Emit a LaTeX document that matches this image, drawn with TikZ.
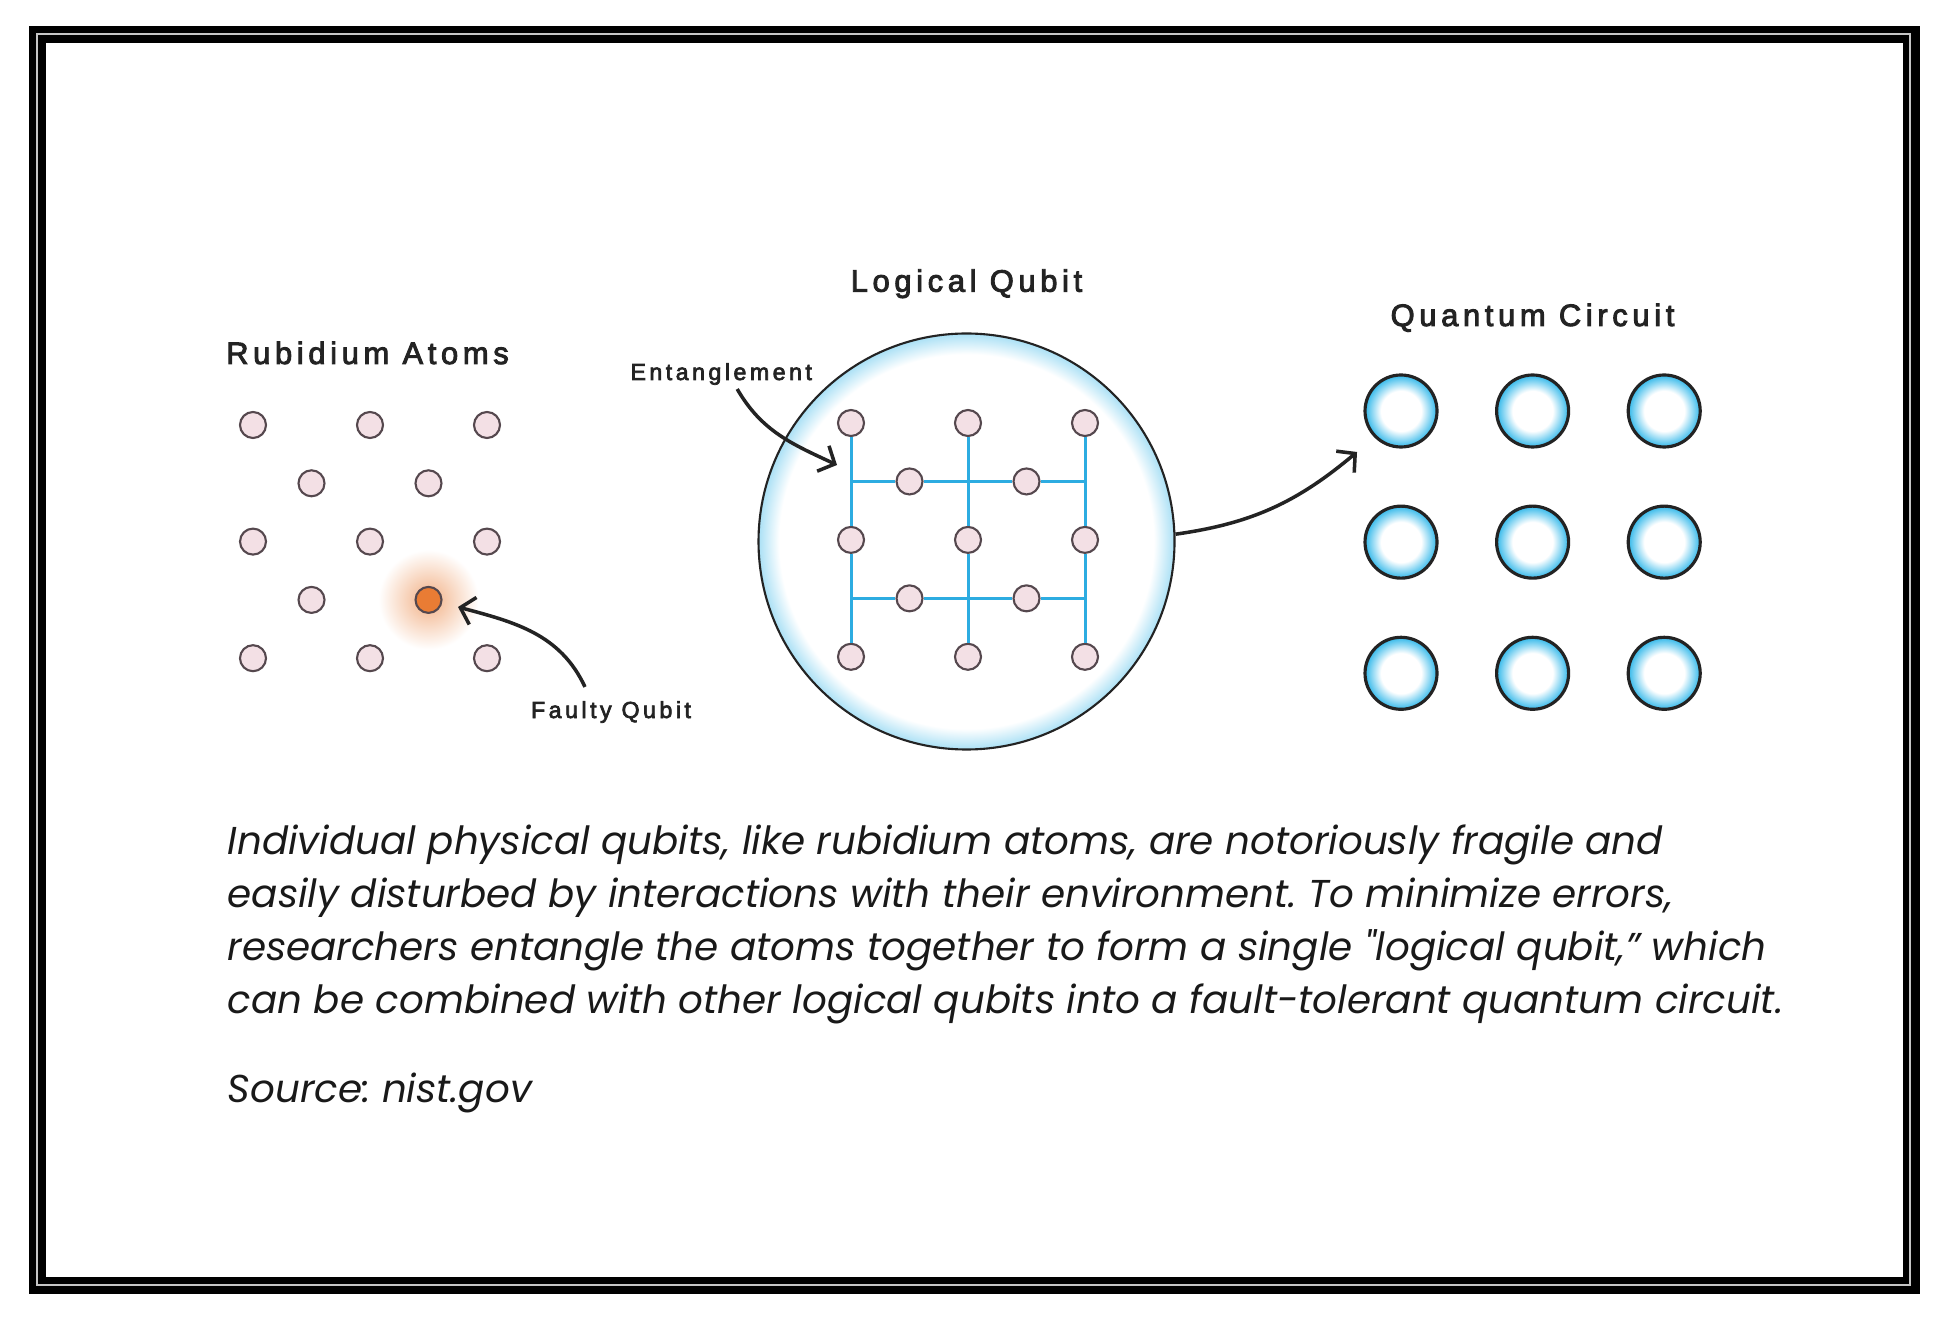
\documentclass[tikz,border=0pt]{standalone}
\usepackage{fontspec}
\usetikzlibrary{positioning, arrows.meta}
\newfontfamily\lblfont[LetterSpace=15, FakeBold=3]{Liberation Sans}
\newfontfamily\capfont{Poppins}
\definecolor{atomfill}{RGB}{243, 224, 229}
\definecolor{atomline}{RGB}{85, 72, 78}
\definecolor{faultfill}{RGB}{233, 124, 52}
\definecolor{entblue}{RGB}{45, 172, 225}
\definecolor{rimblue}{RGB}{170, 224, 245}
\definecolor{qcblue}{RGB}{50, 184, 234}
\definecolor{inkgray}{RGB}{35, 35, 35}
\pgfdeclareradialshading{lqshade}{\pgfpointorigin}{color(0bp)=(white); color(22.5bp)=(white); color(25bp)=(rimblue)}
\pgfdeclareradialshading{qcshade}{\pgfpointorigin}{color(0bp)=(white); color(14bp)=(white); color(25bp)=(qcblue)}

\begin{document}
\begin{tikzpicture}[
        atom/.style={circle, draw=atomline, line width=0.6pt, fill=atomfill,
            minimum size=0.26cm, inner sep=0pt},
        faulty/.style={atom, fill=faultfill},
        qbit/.style={circle, draw=inkgray, line width=0.9pt, shading=qcshade,
            minimum size=0.72cm, inner sep=0pt},
        title/.style={font=\lblfont\fontsize{8.8}{10}\selectfont, text=inkgray, inner sep=1pt},
        tag/.style={font=\lblfont\fontsize{6.6}{8}\selectfont, text=inkgray, inner sep=1pt},
        capnode/.style={font=\capfont\itshape\fontsize{11.05}{15.1}\selectfont\frenchspacing,
            text=black!90, align=left, inner sep=0pt},
        ptr/.style={-{Straight Barb[length=1.3mm, width=2.8mm]}, line width=1pt, draw=inkgray},
        link/.style={draw=entblue, line width=0.85pt}
    ]
    \useasboundingbox (0,0) rectangle (19.38,13.16);
    \fill[white] (0,0) rectangle (19.38,13.16);
    % double frame
    \draw[line width=0.17cm] (0.37,0.305) rectangle (19.11,12.815);
    \draw[gray!45, line width=0.02cm] (0.365,0.315) rectangle (19.095,12.815);

    % rubidium atoms
    \shade[inner color=faultfill!60, outer color=white] (4.285,7.162) circle (0.5);
    \foreach \r in {0,2,4}
        \foreach \c in {0,1,2}
            \node[atom] (ra-\r-\c) at ({2.53+1.17*\c}, {8.91-0.583*\r}) {};
    \foreach \r/\c in {1/0, 1/1, 3/0}
        \node[atom] (ra-\r-\c) at ({3.115+1.17*\c}, {8.91-0.583*\r}) {};
    \node[faulty] (ra-3-1) at (4.285, 7.161) {};
    \node[title, anchor=base] (ratitle) at (3.675, 9.52) {Rubidium Atoms};
    \node[tag, anchor=base] (flbl) at (6.11, 5.98) {Faulty Qubit};
    \coordinate (ftip) at (4.58, 7.09);
    \draw[ptr] ([xshift=-2.6mm, yshift=1mm]flbl.north) to[out=115, in=-15] (ftip);

    % logical qubit
    \node[circle, draw=inkgray, line width=0.6pt, shading=lqshade,
        minimum size=4.16cm, inner sep=0pt] (lq) at (9.665, 7.745) {};
    \foreach \r in {0,2,4}
        \foreach \c in {0,1,2}
            \node[atom] (lq-\r-\c) at ({8.51+1.17*\c}, {8.93-0.5845*\r}) {};
    \foreach \r in {1,3}
        \foreach \c in {0,1}
            \node[atom] (lq-\r-\c) at ({9.095+1.17*\c}, {8.93-0.5845*\r}) {};
    \foreach \c in {0,1,2}
        \draw[link] (lq-0-\c) -- (lq-2-\c) -- (lq-4-\c);
    \foreach \r in {1,3}
        \draw[link] (lq-0-0 |- lq-\r-0) -- (lq-\r-0) -- (lq-\r-1) -- (lq-0-2 |- lq-\r-1);
    \node[title, anchor=base] (lqtitle) at (9.665, 10.243) {Logical Qubit};
    \node[tag, anchor=base] (entlbl) at (7.212, 9.36) {Entanglement};
    \coordinate (enttip) at (8.37, 8.51);
    \draw[ptr] ([xshift=1.6mm]entlbl.south) to[out=-60, in=155] (enttip);

    % quantum circuit
    \foreach \r in {0,1,2}
        \foreach \c in {0,1,2}
            \node[qbit] (qc-\r-\c) at ({14.01+1.316*\c}, {9.05-1.3115*\r}) {};
    \node[title, anchor=base] (qctitle) at (15.325, 9.90) {Quantum Circuit};
    \coordinate (qctip) at (13.57, 8.64);
    \draw[ptr] (lq.2) to[out=8, in=-140] (qctip);

    % caption
    \node[capnode, anchor=north west] (cap) at (2.27, 4.92)
        {Individual physical qubits, like rubidium atoms, are notoriously fragile and\\
         easily disturbed by interactions with their environment. To minimize errors,\\
         researchers entangle the atoms together to form a single "logical qubit,” which\\
         can be combined with other logical qubits into a fault-tolerant quantum circuit.};
    \node[capnode, anchor=base west] (src) at (2.27, 2.14) {Source: nist.gov};
\end{tikzpicture}
\end{document}
